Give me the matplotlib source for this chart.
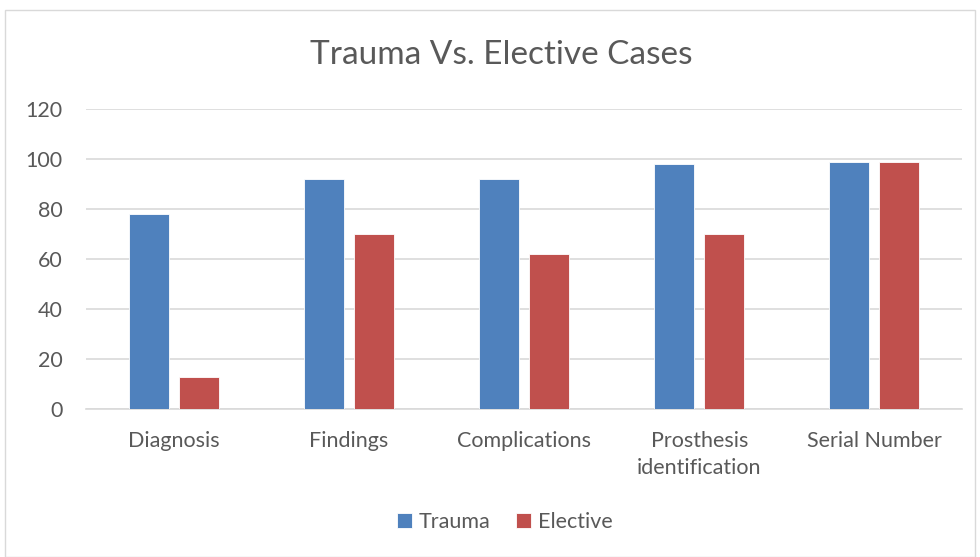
import matplotlib
matplotlib.use("Agg")
import matplotlib.pyplot as plt
import numpy as np
from matplotlib.patches import Rectangle

categories = ["Diagnosis", "Findings", "Complications", "Prosthesis\nidentification", "Serial Number"]
trauma = [78, 92, 92, 98, 99]
elective = [13, 70, 62, 70, 99]
yticks = [0, 20, 40, 60, 80, 100, 120]

plt.rcParams['font.family'] = ['Lato', 'DejaVu Sans']
txt = '#595959'

fig = plt.figure(figsize=(9.8, 5.57), dpi=100)
fig.patches.append(Rectangle((5/980, 0), 970/980, 1 - 10/557, transform=fig.transFigure,
                             fill=False, edgecolor='#d9d9d9', lw=1))
ax = fig.add_axes([86/980, 1 - 409/557, 876/980, 300/557])

x = np.arange(len(categories))
w = 40/175
off = 25/175
ax.bar(x - off, trauma, w, color='#4f81bd', edgecolor='white', lw=0.6, label='Trauma', zorder=3)
ax.bar(x + off, elective, w, color='#c0504d', edgecolor='white', lw=0.6, label='Elective', zorder=3)

ax.set_xlim(-0.5, len(categories) - 0.5)
ax.set_ylim(0, 120)
ax.set_yticks(yticks)
ax.yaxis.grid(True, color='#d9d9d9', lw=1.2, zorder=0)
for s in ['top', 'right', 'left']:
    ax.spines[s].set_visible(False)
ax.spines['bottom'].set_color('#d9d9d9')
ax.spines['bottom'].set_linewidth(1.2)
ax.tick_params(axis='both', length=0, colors=txt, labelsize=15.5)
ax.tick_params(axis='y', pad=17)
ax.tick_params(axis='x', pad=16)
ax.set_xticks(x)
ax.set_xticklabels(categories, linespacing=1.45)

fig.text(501/980, 1 - 55/557, 'Trauma Vs. Elective Cases', ha='center', va='center',
         fontsize=24, color=txt)

ax.legend(loc='center', bbox_to_anchor=(505/980, 1 - 522/557), bbox_transform=fig.transFigure,
          ncol=2, frameon=False, fontsize=15.5, handlelength=0.7, handleheight=0.7,
          handletextpad=0.3, columnspacing=1.2, labelcolor=txt)

fig.savefig('out.png', dpi=100)
